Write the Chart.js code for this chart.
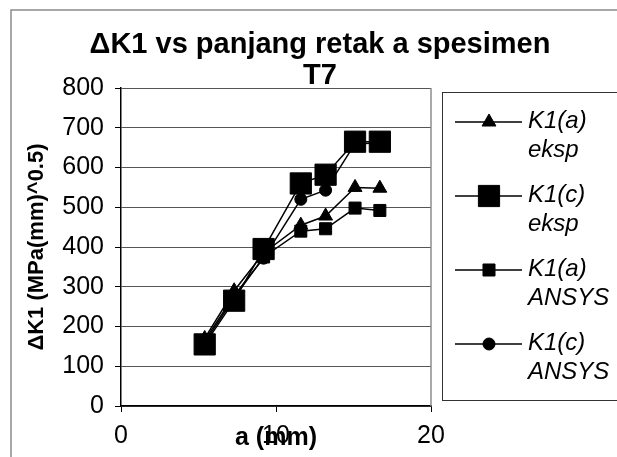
<!DOCTYPE html>
<html>
<head>
<meta charset="utf-8">
<script src="https://cdn.jsdelivr.net/npm/chart.js@4.4.1/dist/chart.umd.min.js"></script>
<style>
  html, body { margin: 0; padding: 0; background: #fff; }
</style>
</head>
<body>
<canvas id="chart" width="617" height="457"></canvas>
<script>
// crack length a (mm)
const crackLength = [5.4, 7.3, 9.2, 11.6, 13.2, 15.1, 16.7];

// delta K1 values, MPa(mm)^0.5
const k1aEksp  = [170, 290, 385, 455, 478, 550, 548];
const k1cEksp  = [155, 265, 395, 560, 582, 665, 665];
const k1aAnsys = [160, 272, 375, 440, 446, 498, 492];
const k1cAnsys = [165, 278, 372, 520, 543, 660, 662];

const legendLines = [
    ["K1(a)", "eksp"],
    ["K1(c)", "eksp"],
    ["K1(a)", "ANSYS"],
    ["K1(c)", "ANSYS"]
];

const FONT = '"Liberation Sans", Arial, sans-serif';
Chart.defaults.font.family = FONT;
Chart.defaults.color = "#000";

function points(ys) {
    return ys.map((y, i) => ({ x: crackLength[i], y: y }));
}

function series(label, ys, style, radius) {
    return {
        label: label,
        data: points(ys),
        showLine: true,
        borderColor: "#000",
        backgroundColor: "#000",
        borderWidth: 1.5,
        pointStyle: style,
        pointRadius: radius,
        pointBorderWidth: 1,
        pointBackgroundColor: "#000",
        pointBorderColor: "#000"
    };
}

// outer frame + plot border on the right
const framePlugin = {
    id: "frame",
    beforeDraw(chart) {
        const ctx = chart.ctx;
        ctx.save();
        ctx.fillStyle = "#fff";
        ctx.fillRect(0, 0, chart.width, chart.height);
        ctx.strokeStyle = "#8c8c8c";
        ctx.lineWidth = 1.5;
        ctx.beginPath();
        ctx.moveTo(11, chart.height);
        ctx.lineTo(11, 10);
        ctx.lineTo(chart.width, 10);
        ctx.stroke();
        ctx.restore();
    },
    afterDraw(chart) {
        const a = chart.chartArea;
        const ctx = chart.ctx;
        ctx.save();
        ctx.strokeStyle = "#8c8c8c";
        ctx.lineWidth = 1.5;
        ctx.beginPath();
        ctx.moveTo(a.right, a.top);
        ctx.lineTo(a.right, a.bottom);
        ctx.stroke();
        ctx.restore();
    }
};

// legend box with two-line labels
const legendPlugin = {
    id: "legendBox",
    afterDraw(chart) {
        const ctx = chart.ctx;
        ctx.save();
        ctx.strokeStyle = "#333";
        ctx.lineWidth = 1;
        ctx.strokeRect(442.5, 92.5, 220, 308);
        chart.data.datasets.forEach((ds, i) => {
            const y = 122 + i * 74;
            ctx.strokeStyle = "#000";
            ctx.lineWidth = 1.5;
            ctx.beginPath();
            ctx.moveTo(455, y);
            ctx.lineTo(522, y);
            ctx.stroke();
            ctx.fillStyle = "#000";
            ctx.lineWidth = 1;
            Chart.helpers.drawPoint(ctx, {
                pointStyle: ds.pointStyle,
                radius: ds.pointRadius,
                borderWidth: 1,
                rotation: 0
            }, 489, y);
            ctx.font = "italic 24px " + FONT;
            ctx.textBaseline = "alphabetic";
            ctx.textAlign = "left";
            ctx.fillText(legendLines[i][0], 528, y + 6);
            ctx.fillText(legendLines[i][1], 528, y + 35);
        });
        ctx.restore();
    }
};

new Chart(document.getElementById("chart"), {
    type: "scatter",
    data: {
        datasets: [
            series("K1(a) eksp", k1aEksp, "triangle", 8),
            series("K1(c) eksp", k1cEksp, "rect", 15),
            series("K1(a) ANSYS", k1aAnsys, "rect", 8.5),
            series("K1(c) ANSYS", k1cAnsys, "circle", 6)
        ]
    },
    options: {
        responsive: false,
        animation: false,
        layout: { padding: { left: 23, right: 0, top: 0, bottom: 0 } },
        plugins: {
            legend: { display: false },
            tooltip: { enabled: false },
            title: {
                display: true,
                text: ["\u0394K1 vs panjang retak a spesimen", "T7"],
                color: "#000",
                font: { size: 29, weight: "bold", lineHeight: 1.07 },
                padding: { top: 29, bottom: -3 }
            }
        },
        scales: {
            x: {
                type: "linear",
                min: 0,
                max: 20,
                ticks: { stepSize: 10, color: "#000", font: { size: 25 }, padding: 9, maxRotation: 0 },
                grid: { drawOnChartArea: false, tickLength: 6, color: "#000" },
                border: { color: "#000", width: 1.5 },
                title: {
                    display: true,
                    text: "a (mm)",
                    color: "#000",
                    font: { size: 25, weight: "bold" },
                    padding: { top: 0, bottom: 4 }
                },
                afterFit(scale) { scale.height = 51; }
            },
            y: {
                min: 0,
                max: 800,
                ticks: { stepSize: 100, color: "#000", font: { size: 25 }, padding: 11 },
                grid: { color: "#555", tickLength: 6, tickColor: "#000" },
                border: { color: "#000", width: 1.5 },
                title: {
                    display: true,
                    text: "\u0394K1 (MPa(mm)^0.5)",
                    color: "#000",
                    font: { size: 22, weight: "bold" },
                    padding: { top: 1, bottom: 0 }
                },
                afterFit(scale) { scale.width = 98; }
            },
            // empty axis that keeps room for the legend
            side: {
                position: "right",
                display: true,
                grid: { display: false },
                ticks: { display: false },
                border: { display: false },
                afterFit(scale) { scale.width = 186; }
            }
        }
    },
    plugins: [framePlugin, legendPlugin]
});
</script>
</body>
</html>
